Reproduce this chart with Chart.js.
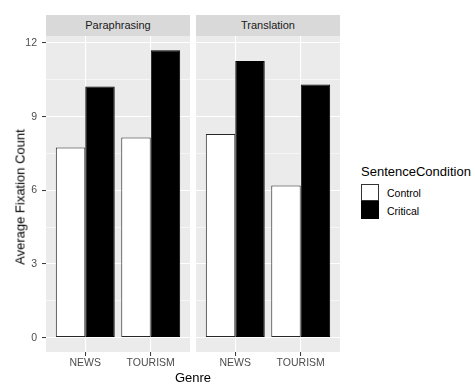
<!DOCTYPE html>
<html>
<head>
<meta charset="utf-8">
<script src="https://cdn.jsdelivr.net/npm/chart.js@4"></script>
<style>
  html, body { margin: 0; padding: 0; background: #ffffff; }
  body { width: 472px; height: 382px; position: relative; overflow: hidden;
         font-family: "Liberation Sans", Arial, sans-serif; }
  canvas { position: absolute; }
  .strip { position: absolute; top: 15px; height: 21px; width: 144px; background: #d9d9d9;
           color: #1a1a1a; font-size: 11px; line-height: 21px; text-align: center; }
  .title { position: absolute; color: #000; font-size: 13px; white-space: nowrap; }
  .key { position: absolute; left: 361px; width: 18px; height: 18px; box-sizing: border-box; }
  .keylab { position: absolute; left: 387px; font-size: 10.5px; color: #000; line-height: 12px; }
</style>
</head>
<body>
<div class="strip" style="left:46px" id="strip0"></div>
<div class="strip" style="left:196px" id="strip1"></div>
<canvas id="c0" width="190" height="346" style="left:0;top:36px"></canvas>
<canvas id="c1" width="144" height="346" style="left:196px;top:36px"></canvas>
<div class="title" id="ytitle" style="left:20px;top:197px;transform:translate(-50%,-50%) rotate(-90deg)"></div>
<div class="title" id="xtitle" style="left:193px;top:370px;transform:translateX(-50%)"></div>
<div class="title" id="legtitle" style="left:361px;top:164px"></div>
<div class="key" style="top:184px;height:17px;background:#fff;border:1px solid #333"></div>
<div class="key" style="top:201px;background:#000;border:1px solid #000"></div>
<div class="keylab" id="lab0" style="top:187px"></div>
<div class="keylab" id="lab1" style="top:205px"></div>
<script>
// Average fixation counts by genre, per task facet
const genres = ['NEWS', 'TOURISM'];
const facets = ['Paraphrasing', 'Translation'];
const conditions = ['Control', 'Critical'];
const paraphrasingControl = [7.74, 8.15];
const paraphrasingCritical = [10.23, 11.70];
const translationControl = [8.29, 6.20];
const translationCritical = [11.27, 10.31];
const yTicks = [0, 3, 6, 9, 12];
const yMinorTicks = [1.5, 4.5, 7.5, 10.5];

const yMin = -0.585, yMax = 12.285;
const tickFont = { family: '"Liberation Sans", Arial, sans-serif', size: 10.5 };

document.getElementById('strip0').textContent = facets[0];
document.getElementById('strip1').textContent = facets[1];
document.getElementById('ytitle').textContent = 'Average Fixation Count';
document.getElementById('xtitle').textContent = 'Genre';
document.getElementById('legtitle').textContent = 'SentenceCondition';
document.getElementById('lab0').textContent = conditions[0];
document.getElementById('lab1').textContent = conditions[1];

const panelBg = {
  id: 'panelBg',
  beforeDraw(chart) {
    const a = chart.chartArea, ctx = chart.ctx;
    ctx.save();
    ctx.fillStyle = '#ebebeb';
    ctx.fillRect(a.left, a.top, a.right - a.left, a.bottom - a.top);
    ctx.restore();
  }
};

function points(values) {
  return values.map((v, i) => ({ x: i + 1, y: v }));
}

function makeChart(id, control, critical, showY) {
  return new Chart(document.getElementById(id), {
    type: 'bar',
    data: {
      datasets: [
        { label: conditions[0], data: points(control), backgroundColor: '#ffffff',
          borderColor: '#262626', borderWidth: 1, borderSkipped: false,
          categoryPercentage: 0.9, barPercentage: 1.0 },
        { label: conditions[1], data: points(critical), backgroundColor: '#000000',
          borderColor: '#000000', borderWidth: 1, borderSkipped: false,
          categoryPercentage: 0.9, barPercentage: 1.0 }
      ]
    },
    options: {
      responsive: false,
      animation: false,
      layout: { padding: 0 },
      plugins: { legend: { display: false }, tooltip: { enabled: false } },
      scales: {
        x: {
          type: 'linear', min: 0.4, max: 2.6, offset: false,
          afterBuildTicks(s) { s.ticks = genres.map((g, i) => ({ value: i + 1 })); },
          afterFit(s) { s.height = 30; s.paddingLeft = 0; s.paddingRight = 0; },
          ticks: { color: '#4d4d4d', font: tickFont, padding: 1, maxRotation: 0,
                   autoSkip: false, callback: (v) => genres[v - 1] },
          grid: { offset: false, color: '#ffffff', lineWidth: 1.1, tickLength: 4,
                  tickColor: '#333333', tickWidth: 1 },
          border: { display: false }
        },
        y: {
          min: yMin, max: yMax,
          afterBuildTicks(s) {
            s.ticks = yTicks.concat(yMinorTicks).sort((a, b) => a - b).map(v => ({ value: v }));
          },
          afterFit(s) { s.width = showY ? 46 : 0; s.paddingTop = 0; s.paddingBottom = 0; },
          ticks: { display: showY, color: '#4d4d4d', font: tickFont, padding: 5,
                   autoSkip: false, callback: (v) => yTicks.includes(v) ? String(v) : '' },
          grid: {
            color: '#ffffff',
            lineWidth: (c) => (c.tick && yTicks.includes(c.tick.value)) ? 1.1 : 0.55,
            tickLength: 4,
            tickColor: (c) => (showY && c.tick && yTicks.includes(c.tick.value)) ? '#333333' : 'rgba(0,0,0,0)',
            tickWidth: 1
          },
          border: { display: false }
        }
      }
    },
    plugins: [panelBg]
  });
}

makeChart('c0', paraphrasingControl, paraphrasingCritical, true);
makeChart('c1', translationControl, translationCritical, false);
</script>
</body>
</html>
